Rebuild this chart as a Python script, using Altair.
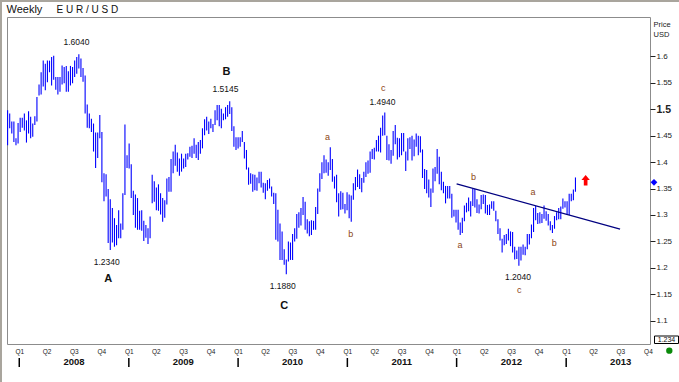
import altair as alt
import pandas as pd

# ---------------- data (weekly EUR/USD) ----------------
START = "2007-11-23"

HIGH = [
    1.498, 1.492, 1.477, 1.477, 1.445, 1.474, 1.484, 1.484, 1.492, 1.479,
    1.496, 1.486, 1.473, 1.487, 1.523, 1.547, 1.570, 1.592, 1.586, 1.592,
    1.592, 1.599, 1.601, 1.561, 1.561, 1.561, 1.583, 1.580, 1.582, 1.572,
    1.582, 1.580, 1.592, 1.599, 1.604, 1.596, 1.578, 1.564, 1.509, 1.492,
    1.482, 1.473, 1.456, 1.456, 1.489, 1.457, 1.379,
    1.377, 1.349, 1.330, 1.313, 1.294, 1.281, 1.309, 1.284, 1.341, 1.471,
    1.413, 1.435, 1.396, 1.346, 1.339, 1.332, 1.308, 1.309, 1.289, 1.281,
    1.275, 1.297, 1.376, 1.364, 1.352, 1.358, 1.341, 1.332, 1.328, 1.369,
    1.372, 1.406, 1.420, 1.433, 1.418, 1.407, 1.416, 1.407, 1.416, 1.417,
    1.429, 1.431, 1.445, 1.433, 1.438,
    1.442, 1.464, 1.481, 1.486, 1.477, 1.482, 1.472, 1.498, 1.508, 1.508,
    1.501, 1.492, 1.504, 1.508, 1.515, 1.504, 1.468, 1.447, 1.447,
    1.447, 1.459, 1.438, 1.423, 1.390, 1.379, 1.377, 1.376, 1.371, 1.382,
    1.382, 1.361, 1.360, 1.366, 1.369, 1.354, 1.342, 1.341, 1.310, 1.284, 1.269,
    1.235, 1.216, 1.250, 1.248, 1.264,
    1.275, 1.302, 1.305, 1.313, 1.334, 1.325, 1.292, 1.288, 1.290, 1.289,
    1.315, 1.350, 1.379, 1.400, 1.413, 1.405, 1.400, 1.428, 1.406, 1.373,
    1.376, 1.341, 1.345, 1.342, 1.321, 1.343, 1.339, 1.337, 1.360, 1.372,
    1.386, 1.377, 1.370, 1.382, 1.400, 1.403, 1.420, 1.425, 1.427, 1.442,
    1.450, 1.465, 1.488, 1.494, 1.450, 1.434, 1.423, 1.459, 1.470, 1.446,
    1.445, 1.455, 1.455, 1.420, 1.445, 1.447, 1.450, 1.443, 1.454, 1.450,
    1.449, 1.424, 1.387, 1.385, 1.367, 1.350, 1.388, 1.391, 1.425, 1.410,
    1.382, 1.363, 1.355, 1.355, 1.355, 1.340, 1.310, 1.310, 1.310, 1.286,
    1.295, 1.318, 1.323, 1.333, 1.326, 1.349, 1.349, 1.330, 1.320, 1.338,
    1.339, 1.338, 1.319, 1.320, 1.326, 1.326, 1.308, 1.292, 1.275, 1.255,
    1.262, 1.264, 1.274, 1.269, 1.268, 1.240, 1.233, 1.240, 1.240, 1.244,
    1.240, 1.264, 1.264, 1.282, 1.313, 1.317, 1.304, 1.305, 1.302, 1.318,
    1.307, 1.302, 1.288, 1.281, 1.298, 1.305, 1.313, 1.316, 1.331, 1.326,
    1.326, 1.340, 1.340, 1.348, 1.371,
]

LOW = [
    1.432, 1.464, 1.454, 1.438, 1.432, 1.435, 1.457, 1.465, 1.460, 1.437,
    1.454, 1.445, 1.448, 1.470, 1.477, 1.526, 1.528, 1.543, 1.536, 1.551,
    1.570, 1.545, 1.556, 1.537, 1.528, 1.533, 1.547, 1.549, 1.533, 1.533,
    1.545, 1.549, 1.561, 1.567, 1.577, 1.561, 1.552, 1.492, 1.465, 1.464,
    1.457, 1.420, 1.389, 1.408, 1.445, 1.362, 1.326,
    1.335, 1.247, 1.234, 1.248, 1.240, 1.243, 1.256, 1.256, 1.272, 1.338,
    1.389, 1.388, 1.332, 1.300, 1.276, 1.272, 1.272, 1.270, 1.251, 1.257,
    1.245, 1.256, 1.322, 1.325, 1.309, 1.308, 1.301, 1.287, 1.295, 1.320,
    1.344, 1.344, 1.379, 1.393, 1.382, 1.374, 1.382, 1.388, 1.391, 1.405,
    1.410, 1.408, 1.416, 1.408, 1.404,
    1.416, 1.426, 1.451, 1.460, 1.453, 1.464, 1.457, 1.470, 1.479, 1.468,
    1.464, 1.479, 1.481, 1.486, 1.491, 1.459, 1.429, 1.423, 1.426,
    1.429, 1.438, 1.407, 1.386, 1.357, 1.359, 1.344, 1.347, 1.346, 1.360,
    1.352, 1.342, 1.330, 1.346, 1.350, 1.335, 1.321, 1.253, 1.250, 1.215, 1.215,
    1.206, 1.188, 1.212, 1.215, 1.215,
    1.250, 1.255, 1.276, 1.280, 1.300, 1.272, 1.265, 1.260, 1.262, 1.272,
    1.272, 1.302, 1.344, 1.368, 1.379, 1.380, 1.374, 1.385, 1.363, 1.350,
    1.324, 1.297, 1.310, 1.311, 1.303, 1.309, 1.294, 1.287, 1.329, 1.347,
    1.353, 1.349, 1.343, 1.361, 1.372, 1.378, 1.380, 1.406, 1.405, 1.420,
    1.420, 1.418, 1.450, 1.451, 1.404, 1.403, 1.397, 1.412, 1.434, 1.405,
    1.409, 1.413, 1.420, 1.383, 1.403, 1.425, 1.403, 1.411, 1.429, 1.413,
    1.418, 1.370, 1.349, 1.341, 1.333, 1.315, 1.342, 1.364, 1.378, 1.358,
    1.347, 1.341, 1.322, 1.331, 1.331, 1.295, 1.297, 1.286, 1.272, 1.262,
    1.266, 1.288, 1.305, 1.307, 1.297, 1.317, 1.314, 1.304, 1.303, 1.311,
    1.321, 1.303, 1.300, 1.300, 1.312, 1.308, 1.288, 1.264, 1.252, 1.229,
    1.243, 1.245, 1.252, 1.241, 1.229, 1.216, 1.217, 1.204, 1.214, 1.225,
    1.224, 1.235, 1.244, 1.256, 1.268, 1.290, 1.283, 1.284, 1.285, 1.293,
    1.289, 1.280, 1.271, 1.266, 1.274, 1.290, 1.292, 1.292, 1.312, 1.314,
    1.300, 1.300, 1.326, 1.328, 1.344,
]
assert len(HIGH) == len(LOW)

# annotations (date, price, text)
PRICE_LABEL_DATES = ["2008-07-10", "2009-11-20", "2011-04-28", "2008-10-19", "2010-05-30", "2012-07-24"]
PRICE_LABEL_Y = [1.6278, 1.5378, 1.5132, 1.2119, 1.1660, 1.1824]
PRICE_LABEL_TEXT = ["1.6040", "1.5145", "1.4940", "1.2340", "1.1880", "1.2040"]

WAVE_DATES = ["2008-10-24", "2009-11-23", "2010-06-04"]
WAVE_Y = [1.1786, 1.5699, 1.1287]
WAVE_TEXT = ["A", "B", "C"]

SUB_DATES = ["2010-10-27", "2011-01-12", "2011-05-01", "2012-01-12", "2012-02-26",
             "2012-07-28", "2012-09-12", "2012-11-22"]
SUB_Y = [1.4471, 1.2643, 1.5397, 1.2435, 1.3726, 1.1585, 1.3431, 1.2467]
SUB_TEXT = ["a", "b", "c", "a", "b", "c", "a", "b"]

TREND_DATES = ["2012-01-01", "2013-06-30"]
TREND_Y = [1.3588, 1.2732]

ARROW_DATE = ["2013-03-07"]
ARROW_Y = [1.3656]
LAST_PRICE = [1.3618]

Y_TICKS = [1.1, 1.15, 1.2, 1.25, 1.3, 1.35, 1.4, 1.45, 1.5, 1.55, 1.6]
YEARS = [2008, 2009, 2010, 2011, 2012, 2013]

# ---------------- tables ----------------
bars = pd.DataFrame({
    "date": pd.date_range(START, periods=len(HIGH), freq="7D"),
    "low": LOW, "high": HIGH,
})
price_lbl = pd.DataFrame({"date": pd.to_datetime(PRICE_LABEL_DATES), "price": PRICE_LABEL_Y, "t": PRICE_LABEL_TEXT})
wave_lbl = pd.DataFrame({"date": pd.to_datetime(WAVE_DATES), "price": WAVE_Y, "t": WAVE_TEXT})
sub_lbl = pd.DataFrame({"date": pd.to_datetime(SUB_DATES), "price": SUB_Y, "t": SUB_TEXT})
trend = pd.DataFrame({"date": pd.to_datetime(TREND_DATES), "price": TREND_Y})
arrow = pd.DataFrame({"date": pd.to_datetime(ARROW_DATE), "price": ARROW_Y})
lastp = pd.DataFrame({"price": LAST_PRICE})
year_ticks = pd.DataFrame({"date": [pd.Timestamp(year=y, month=1, day=1) for y in YEARS]})
year_lbl = pd.DataFrame({"date": [pd.Timestamp(year=y, month=7, day=2) for y in YEARS],
                         "t": [str(y) for y in YEARS]})

W, H = 643, 327
FONT = "Liberation Sans"

xscale = alt.Scale(domain=[alt.DateTime(year=2007, month=11, date=21),
                           alt.DateTime(year=2013, month=10, date=8)])
yscale = alt.Scale(domain=[1.056, 1.6745], nice=False, zero=False)

quarters = [alt.DateTime(year=y, month=m, date=1) for y in YEARS for m in (1, 4, 7, 10)]
xaxis = alt.Axis(values=quarters, labelExpr="'Q' + quarter(datum.value)", title=None,
                 grid=False, domain=False, ticks=False, labelPadding=4, labelFontSize=6.5,
                 labelFont=FONT, labelColor="#222222", labelFlush=False, labelOverlap=False)
is15 = "abs(datum.value - 1.5) < 0.001"
yaxis = alt.Axis(orient="right", values=Y_TICKS, format=".2~f", title=None, grid=False,
                 domain=False, tickSize=5, tickColor="#222222", labelPadding=1,
                 labelFont=FONT, labelColor="#222222",
                 labelFontSize={"condition": {"test": is15, "value": 10.5}, "value": 8},
                 labelFontWeight={"condition": {"test": is15, "value": "bold"}, "value": "normal"})

X = alt.X("date:T", scale=xscale, axis=xaxis)


def Y(field):
    return alt.Y(f"{field}:Q", scale=yscale, axis=yaxis)


bar_layer = alt.Chart(bars).mark_rule(color="#0000ff", strokeWidth=1.1).encode(
    x=X, y=Y("low"), y2="high:Q")

trend_layer = alt.Chart(trend).mark_line(color="#000080", strokeWidth=1.3).encode(
    x=X, y=Y("price"))

price_layer = alt.Chart(price_lbl).mark_text(font=FONT, fontSize=8.5, color="#111111").encode(
    x=X, y=Y("price"), text="t:N")
wave_layer = alt.Chart(wave_lbl).mark_text(font=FONT, fontSize=11, fontWeight="bold", color="#111111").encode(
    x=X, y=Y("price"), text="t:N")
sub_layer = alt.Chart(sub_lbl).mark_text(font=FONT, fontSize=9, color="#8b4513").encode(
    x=X, y=Y("price"), text="t:N")

ARROW_PATH = "M0,-1 L0.8,-0.05 L0.35,-0.05 L0.35,1 L-0.35,1 L-0.35,-0.05 L-0.8,-0.05 Z"
arrow_layer = alt.Chart(arrow).mark_point(shape=ARROW_PATH, filled=True, color="#ff0000",
                                           size=110, opacity=1).encode(x=X, y=Y("price"))

last_layer = alt.Chart(lastp).mark_point(shape="diamond", filled=True, color="#0000ff",
                                          size=45, opacity=1).encode(x=alt.value(647), y=Y("price"))

year_tick_layer = alt.Chart(year_ticks).mark_rule(color="#000000", strokeWidth=1.5).encode(
    x=X, y=alt.value(341), y2=alt.value(350))
year_lbl_layer = alt.Chart(year_lbl).mark_text(font=FONT, fontSize=9.5, fontWeight="bold",
                                               color="#111111").encode(
    x=X, y=alt.value(345), text="t:N")

one = pd.DataFrame({"k": [0]})
title1 = alt.Chart(one).mark_text(text="Weekly", font=FONT, fontSize=11, align="left",
                                  color="#111111").encode(x=alt.value(-0.5), y=alt.value(-7))
title2 = alt.Chart(one).mark_text(text="E U R / U S D", font=FONT, fontSize=10, align="left",
                                  color="#111111").encode(x=alt.value(49.5), y=alt.value(-7))
price_t = alt.Chart(one).mark_text(text="Price", font=FONT, fontSize=7.5, align="left",
                                   color="#222222").encode(x=alt.value(646.5), y=alt.value(7.5))
usd_t = alt.Chart(one).mark_text(text="USD", font=FONT, fontSize=7.5, align="left",
                                 color="#222222").encode(x=alt.value(646.5), y=alt.value(17.5))
box = alt.Chart(one).mark_rect(fill="white", stroke="black", strokeWidth=1).encode(
    x=alt.value(647.5), x2=alt.value(671.5), y=alt.value(319), y2=alt.value(326.5))
box_t = alt.Chart(one).mark_text(text="1.234", font=FONT, fontSize=7, color="#111111").encode(
    x=alt.value(659.5), y=alt.value(323))
green = alt.Chart(one).mark_circle(color="#0a8a0a", size=40, opacity=1).encode(
    x=alt.value(662.3), y=alt.value(333.7))
top_line = alt.Chart(one).mark_rule(color="#a9a59d", strokeWidth=2).encode(
    x=alt.value(-7), x2=alt.value(672), y=alt.value(-16))
left_line = alt.Chart(one).mark_rule(color="#a9a59d", strokeWidth=2).encode(
    x=alt.value(-6), y=alt.value(-17), y2=alt.value(365))

chart = alt.layer(
    bar_layer, trend_layer, price_layer, wave_layer, sub_layer, arrow_layer, last_layer,
    year_tick_layer, year_lbl_layer, title1, title2, price_t, usd_t, box, box_t, green,
    top_line, left_line,
).properties(
    width=W, height=H, autosize="none",
    padding={"left": 7, "top": 17, "right": 29, "bottom": 38},
    background="white",
).configure_view(stroke="#8c8c8c", strokeWidth=1)

chart.save("out.html", embed_options={"renderer": "svg", "actions": False})
